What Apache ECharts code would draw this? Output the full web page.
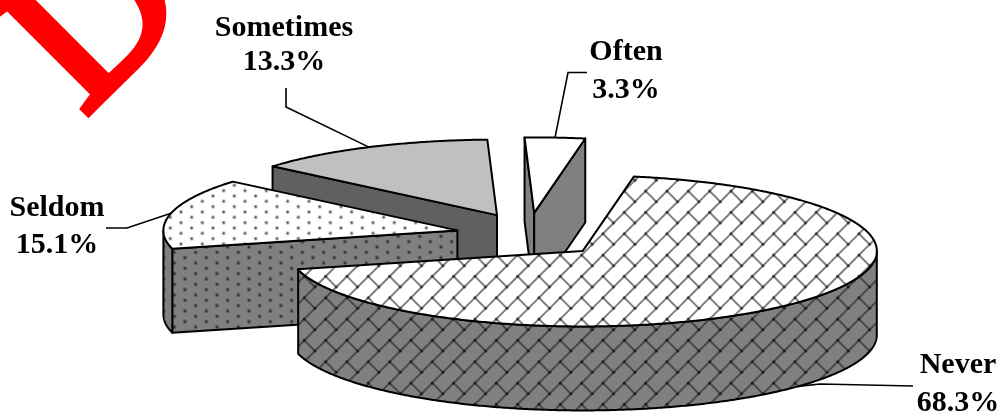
<!DOCTYPE html>
<html>
<head>
<meta charset="utf-8">
<style>html,body{margin:0;padding:0;background:#fff}#c{width:1004px;height:414px}</style>
<script src="https://cdn.jsdelivr.net/npm/echarts@6/dist/echarts.min.js"></script>
</head>
<body>
<div id="c"></div>
<script>
const categories = ['Never', 'Seldom', 'Sometimes', 'Often'];
const shares = [68.3, 15.1, 13.3, 3.3];
const percentLabels = ['68.3%', '15.1%', '13.3%', '3.3%'];

const startAngle = 80;
const pie = {cx: 529, cy: 235.5, rx: 294, ry: 75.5, depth: 84, explodeX: 0.25, explodeY: 0.3};
const labelCenters = [[958, 365, 403], [57, 208, 245], [284, 28, 62], [626, 52, 90]];
const leaderBends = [[[820, 384], [913, 386]], [[127, 228], [106, 228]], [[286, 107], [286, 88]], [[568, 72.5], [587, 72.5]]];
const labelFont = 'bold 30px "Liberation Serif", serif';

function brickTile(bg, line, knot) {
  const c = document.createElement('canvas'); c.width = 64; c.height = 64;
  const g = c.getContext('2d'); g.fillStyle = bg; g.fillRect(0, 0, 64, 64);
  const p = 64 / 3, sx = 16.3, sy = 9.7;
  g.strokeStyle = line; g.lineWidth = 2;
  const cells = [];
  for (let i = -2; i < 5; i++) for (let j = -2; j < 5; j++) cells.push([i * p + sx, j * p + sy]);
  cells.forEach(([x, y]) => {
    g.beginPath(); g.moveTo(x + p, y); g.lineTo(x, y + p);
    g.moveTo(x + p / 2, y + p / 2); g.lineTo(x + p, y + p); g.stroke();
  });
  g.fillStyle = knot;
  cells.forEach(([x, y]) => {
    [[x, y], [x + p / 2, y + p / 2]].forEach(d => { g.beginPath(); g.arc(d[0], d[1], 1.5, 0, 7); g.fill(); });
  });
  return c;
}
function dotTile(bg, dot, halo, px, py) {
  const c = document.createElement('canvas'); c.width = 64; c.height = 32;
  const g = c.getContext('2d'); g.fillStyle = bg; g.fillRect(0, 0, 64, 32);
  const p = 64 / 3, q = 32 / 3;
  for (let i = -1; i < 4; i++) for (let j = -1; j < 4; j++) {
    [[i * p + px, j * q + py], [i * p + px + p / 2, j * q + py + q / 2]].forEach(d => {
      g.fillStyle = halo; g.beginPath(); g.arc(d[0], d[1], 2.2, 0, 7); g.fill();
      g.fillStyle = dot; g.beginPath(); g.arc(d[0], d[1], 1.1, 0, 7); g.fill();
    });
  }
  return c;
}
const looks = [
  {top: {image: brickTile('#ffffff', '#808080', '#3c3c3c'), repeat: 'repeat'}, wall: {image: brickTile('#808080', '#484848', '#202020'), repeat: 'repeat'}},
  {top: {image: dotTile('#ffffff', '#555555', '#cccccc', 10.33, 9.3), repeat: 'repeat'}, wall: {image: dotTile('#808080', '#303030', '#626262', 14.33, 1.7), repeat: 'repeat'}},
  {top: '#c0c0c0', wall: '#606060'},
  {top: '#ffffff', wall: '#808080'}
];

const rad = d => d * Math.PI / 180;
function renderSlice(params, api) {
  const i = params.dataIndex;
  let before = 0;
  for (let k = 0; k < i; k++) before += shares[k];
  const a1 = startAngle - before * 3.6;
  const a2 = a1 - api.value(0) * 3.6;
  const mid = (a1 + a2) / 2;
  const cx = pie.cx + pie.explodeX * pie.rx * Math.cos(rad(mid));
  const cy = pie.cy - pie.explodeY * pie.ry * Math.sin(rad(mid));
  const rim = a => [cx + pie.rx * Math.cos(rad(a)), cy - pie.ry * Math.sin(rad(a))];
  const drop = p => [p[0], p[1] + pie.depth];
  const z = (4 - i) * 10;
  const edge = {stroke: '#000', lineWidth: 2, lineJoin: 'round'};
  const kids = [];
  const poly = (points, fill, z2) => kids.push({type: 'polygon', z2, shape: {points},
    style: Object.assign({}, edge, {fill})});
  const look = looks[i];
  const centre = [cx, cy];
  if (Math.cos(rad(a1)) < 0) { const e = rim(a1); poly([centre, e, drop(e), drop(centre)], look.wall, z); }
  if (Math.cos(rad(a2)) > 0) { const e = rim(a2); poly([centre, e, drop(e), drop(centre)], look.wall, z + 1); }
  // front part of the curved wall
  const arc = [];
  for (let a = a1; a >= a2 - 1e-6; a -= 0.5) {
    const n = ((a % 360) + 360) % 360;
    if (n >= 180) arc.push(rim(a));
  }
  if (arc.length > 1) poly(arc.concat(arc.map(drop).reverse()), look.wall, z + 2);
  // top face
  const top = [centre];
  for (let a = a1; a > a2; a -= 0.5) top.push(rim(a));
  top.push(rim(a2));
  poly(top, look.top, z + 3);
  // leader
  const m = rim(mid);
  const start = i === 0 ? drop(m) : m;
  kids.push({type: 'polyline', z2: 60, shape: {points: [start].concat(leaderBends[i])},
    style: {stroke: '#000', lineWidth: 1.6, fill: null}});
  // label
  const lc = labelCenters[i];
  [categories[i], percentLabels[i]].forEach((t, k) => kids.push({type: 'text', z2: 70,
    style: {text: t, x: lc[0], y: lc[k + 1], fill: '#000', font: labelFont, align: 'center', verticalAlign: 'middle'}}));
  return {type: 'group', children: kids};
}

const chart = echarts.init(document.getElementById('c'), null, {renderer: 'canvas'});
chart.setOption({
  animation: false,
  backgroundColor: '#fff',
  graphic: [{type: 'text', x: 120, y: 153, rotation: Math.PI / 4, z: 100,
    style: {text: 'D', fill: '#ff0000', stroke: '#ff0000', lineWidth: 8, font: '215px "Liberation Serif", serif', align: 'left', verticalAlign: 'bottom'}}],
  series: [{type: 'custom', coordinateSystem: 'none', renderItem: renderSlice, silent: true,
    data: shares.map(v => [v])}]
});
</script>
</body>
</html>
